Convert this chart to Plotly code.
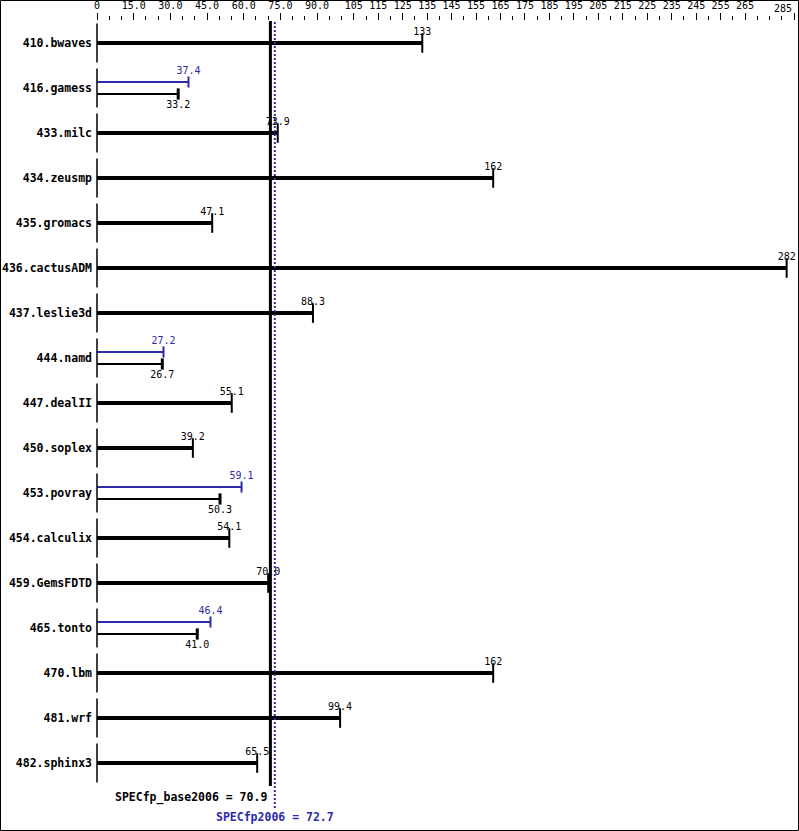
import plotly.graph_objects as go

# === data ===
benchmarks = ["410.bwaves", "416.gamess", "433.milc", "434.zeusmp", "435.gromacs",
              "436.cactusADM", "437.leslie3d", "444.namd", "447.dealII", "450.soplex",
              "453.povray", "454.calculix", "459.GemsFDTD", "465.tonto", "470.lbm",
              "481.wrf", "482.sphinx3"]
base = [133, 33.2, 73.9, 162, 47.1, 282, 88.3, 26.7, 55.1, 39.2,
        50.3, 54.1, 70.0, 41.0, 162, 99.4, 65.5]
peak = [None, 37.4, None, None, None, None, None, 27.2, None, None,
        59.1, None, None, 46.4, None, None, None]
specfp_base = 70.9
specfp_peak = 72.7

x_max = 285
tick_vals = [0, 15, 30, 45, 60, 75, 90] + list(range(105, 275, 10)) + [285]
tick_text = ["0", "15.0", "30.0", "45.0", "60.0", "75.0", "90.0"] + [str(v) for v in range(105, 275, 10)] + [""]

BLUE = "#2b2bab"
MONO = "DejaVu Sans Mono"
W, H = 799, 831
L, R, T, B = 97, 5, 21, 0
ROW_PX = 45
FIRST_ROW_PX = 43
plot_h = H - T - B
r0 = -(FIRST_ROW_PX - T) / ROW_PX
r1 = r0 + plot_h / ROW_PX
off = 6 / ROW_PX  # offset for paired bars


def fmt(v):
    return f"{v:.0f}" if v >= 100 else f"{v:.1f}"


single_idx = [i for i, p in enumerate(peak) if p is None]
pair_idx = [i for i, p in enumerate(peak) if p is not None]

fig = go.Figure()

# thick base bars (no peak)
fig.add_trace(go.Bar(
    y=single_idx, x=[base[i] for i in single_idx], orientation="h",
    width=4 / ROW_PX, marker=dict(color="black", line=dict(width=0)),
    showlegend=False, hoverinfo="skip"))
# thin peak bars
fig.add_trace(go.Bar(
    y=[i - off for i in pair_idx], x=[peak[i] for i in pair_idx], orientation="h",
    width=2 / ROW_PX, marker=dict(color=BLUE, line=dict(width=0)),
    showlegend=False, hoverinfo="skip"))
# thin base bars
fig.add_trace(go.Bar(
    y=[i + off for i in pair_idx], x=[base[i] for i in pair_idx], orientation="h",
    width=2 / ROW_PX, marker=dict(color="black", line=dict(width=0)),
    showlegend=False, hoverinfo="skip"))

# end caps
fig.add_trace(go.Scatter(
    y=single_idx, x=[base[i] for i in single_idx], mode="markers",
    marker=dict(symbol="line-ns", size=14, line=dict(width=2, color="black")),
    cliponaxis=False, showlegend=False, hoverinfo="skip"))
# value labels for single bars
fig.add_trace(go.Scatter(
    y=single_idx, x=[base[i] for i in single_idx], mode="markers+text",
    marker=dict(size=8, color="rgba(0,0,0,0)"),
    text=[fmt(base[i]) for i in single_idx], textposition="top center",
    textfont=dict(family=MONO, size=10, color="black"),
    cliponaxis=False, showlegend=False, hoverinfo="skip"))
fig.add_trace(go.Scatter(
    y=[i - off for i in pair_idx], x=[peak[i] for i in pair_idx], mode="markers+text",
    marker=dict(symbol="line-ns", size=8, line=dict(width=2, color=BLUE)),
    text=[fmt(peak[i]) for i in pair_idx], textposition="top center",
    textfont=dict(family=MONO, size=10, color=BLUE),
    cliponaxis=False, showlegend=False, hoverinfo="skip"))
fig.add_trace(go.Scatter(
    y=[i + off for i in pair_idx], x=[base[i] for i in pair_idx], mode="markers+text",
    marker=dict(symbol="line-ns", size=8, line=dict(width=3, color="black")),
    text=[fmt(base[i]) for i in pair_idx], textposition="bottom center",
    textfont=dict(family=MONO, size=10, color="black"),
    cliponaxis=False, showlegend=False, hoverinfo="skip"))

# start line at zero for each benchmark
fig.add_trace(go.Scatter(
    y=list(range(len(benchmarks))), x=[0] * len(benchmarks), mode="markers",
    marker=dict(symbol="line-ns", size=28, line=dict(width=1.5, color="black")),
    cliponaxis=False, showlegend=False, hoverinfo="skip"))

# reference lines
y_base_end = (H - 786) / plot_h
y_peak_end = (H - 808) / plot_h
fig.add_shape(type="line", xref="x", yref="paper", x0=specfp_base, x1=specfp_base,
              y0=y_base_end, y1=1, line=dict(color="black", width=3))
fig.add_shape(type="line", xref="x", yref="paper", x0=specfp_peak, x1=specfp_peak,
              y0=y_peak_end, y1=1, line=dict(color=BLUE, width=2, dash="2px,2px"))

fig.add_annotation(x=specfp_base, xref="x", y=(H - 797) / plot_h, yref="paper",
                   text=f"<b>SPECfp_base2006 = {specfp_base}</b>", showarrow=False,
                   xanchor="right", yanchor="middle", xshift=-1,
                   font=dict(family=MONO, size=11.5, color="black"))
fig.add_annotation(x=specfp_peak, xref="x", y=(H - 817) / plot_h, yref="paper",
                   text=f"<b>SPECfp2006 = {specfp_peak}</b>", showarrow=False,
                   xanchor="center", yanchor="middle",
                   font=dict(family=MONO, size=11.5, color=BLUE))
# last axis label sits left of its tick so it stays inside the frame
fig.add_annotation(x=x_max, xref="x", y=1, yref="paper", yshift=13,
                   text=str(x_max), showarrow=False, xanchor="right", yanchor="middle",
                   font=dict(family=MONO, size=10, color="black"))

# outer frame
fig.add_shape(type="rect", xref="paper", yref="paper",
              x0=-(L - 0.5) / (W - L - R), x1=(W - L - 0.5) / (W - L - R),
              y0=0.5 / plot_h, y1=(H - B - 0.5) / plot_h,
              line=dict(color="black", width=1))

fig.update_layout(
    width=W, height=H,
    margin=dict(l=L, r=R, t=T, b=B),
    paper_bgcolor="white", plot_bgcolor="white",
    barmode="overlay",
    font=dict(family=MONO, color="black"),
    xaxis=dict(
        side="top", range=[0, x_max], showgrid=False, zeroline=False, showline=False,
        automargin=False,
        tickmode="array", tickvals=tick_vals, ticktext=tick_text,
        ticks="outside", ticklen=7, tickwidth=1, tickcolor="black",
        tickfont=dict(family=MONO, size=10, color="black"),
        minor=dict(dtick=5, tick0=0, ticks="outside", ticklen=4, tickwidth=1, tickcolor="black"),
    ),
    yaxis=dict(
        range=[r1, r0], showgrid=False, zeroline=False, showline=False,
        automargin=False,
        tickmode="array", tickvals=list(range(len(benchmarks))),
        ticktext=[f"<b>{b}</b>" for b in benchmarks],
        ticks="", ticklabelstandoff=4,
        tickfont=dict(family=MONO, size=11.5, color="black"),
    ),
)

# the page has a default body margin; drop it so the chart fills the window
fig.write_html("out.html", config={"displayModeBar": False},
               post_script="document.body.style.margin='0';")
